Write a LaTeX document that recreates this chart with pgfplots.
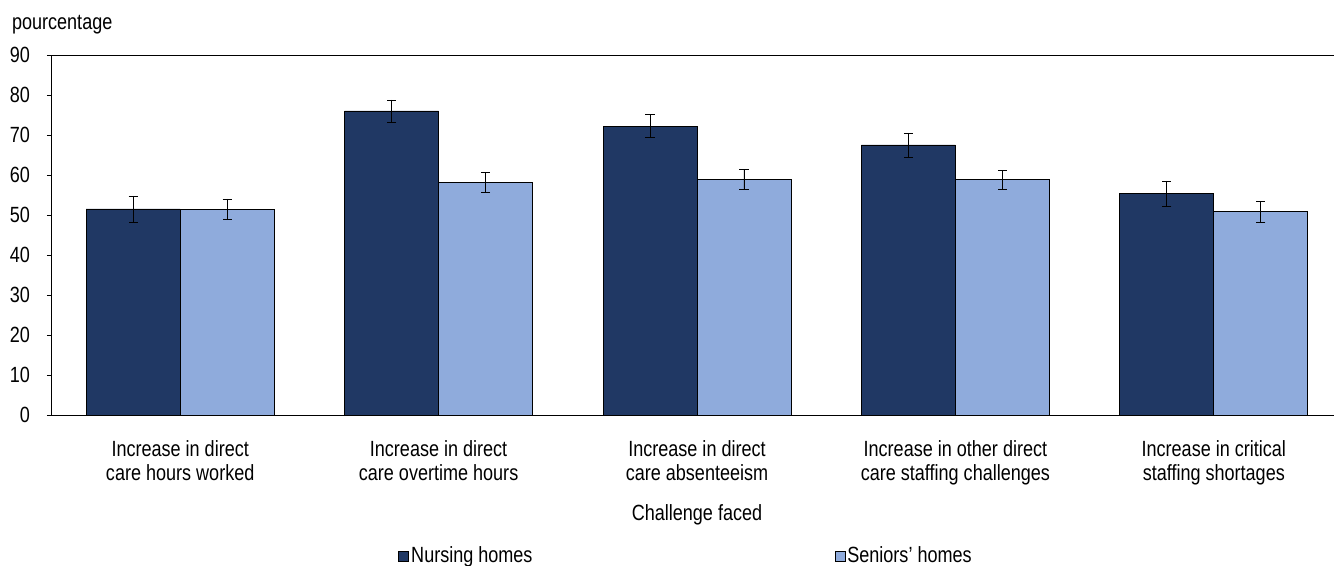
\documentclass[border=0pt]{standalone}
\usepackage{pgfplots}
\pgfplotsset{compat=1.18}
\usepackage{fontspec}
\setmainfont{Liberation Sans}[FakeStretch=0.82]

\definecolor{nursing}{RGB}{32,56,100}
\definecolor{seniors}{RGB}{143,171,220}

\begin{document}
\begin{tikzpicture}[font=\fontsize{11}{12}\selectfont]
\useasboundingbox (-25.5pt,-75.5pt) rectangle (641.5pt,207.5pt);
\begin{axis}[
  scale only axis,
  width=646pt, height=180pt,
  ymin=0, ymax=90,
  ytick={0,10,...,90},
  xmin=-0.5, xmax=4.5,
  xtick={0,1,2,3,4},
  xticklabels={{Increase in direct\\care hours worked},
               {Increase in direct\\care overtime hours},
               {Increase in direct\\care absenteeism},
               {Increase in other direct\\care staffing challenges},
               {Increase in critical\\staffing shortages}},
  xticklabel style={align=center, yshift=-7pt},
  major x tick style={draw=none},
  ytick style={black, thin},
  tick align=outside,
  major tick length=2pt,
  yticklabel style={xshift=-5pt},
  /pgf/number format/assume math mode=true,
  axis line style={black, thin},
  ybar,
  bar width=0.3636,
  xlabel={Challenge faced},
  xlabel style={at={(axis description cs:0.5,0)}, anchor=center, yshift=-50pt},
  ylabel={pourcentage},
  ylabel style={at={(axis description cs:0,1)}, rotate=-90, anchor=base west,
                xshift=-23pt, yshift=12.5pt},
  legend columns=2,
  legend style={at={(axis description cs:0.2686,-0.392)}, anchor=west,
                draw=none, fill=none, inner sep=0pt,
                /tikz/every even column/.append style={column sep=150pt},
                nodes={inner sep=1pt}},
  legend image code/.code={\draw[#1, draw=black, thin] (0pt,-2.6pt) rectangle (5pt,2.6pt);},
  error bars/y dir=both,
  error bars/y explicit,
  error bars/error bar style={black, thin},
  error bars/error mark options={rotate=90, mark size=2.3pt, black, thin},
]
\addplot[fill=nursing, draw=black, thin, bar shift=-0.1818]
  coordinates {
    (0,51.5) +- (0,3.25)
    (1,76.0) +- (0,2.75)
    (2,72.2) +- (0,2.9)
    (3,67.5) +- (0,3.0)
    (4,55.3) +- (0,3.2)
  };
\addlegendentry{Nursing homes}
\addplot[fill=seniors, draw=black, thin, bar shift=0.1818]
  coordinates {
    (0,51.4) +- (0,2.6)
    (1,58.1) +- (0,2.5)
    (2,58.9) +- (0,2.5)
    (3,58.8) +- (0,2.4)
    (4,50.8) +- (0,2.6)
  };
\addlegendentry{Seniors’ homes}
\end{axis}
\end{tikzpicture}
\end{document}
